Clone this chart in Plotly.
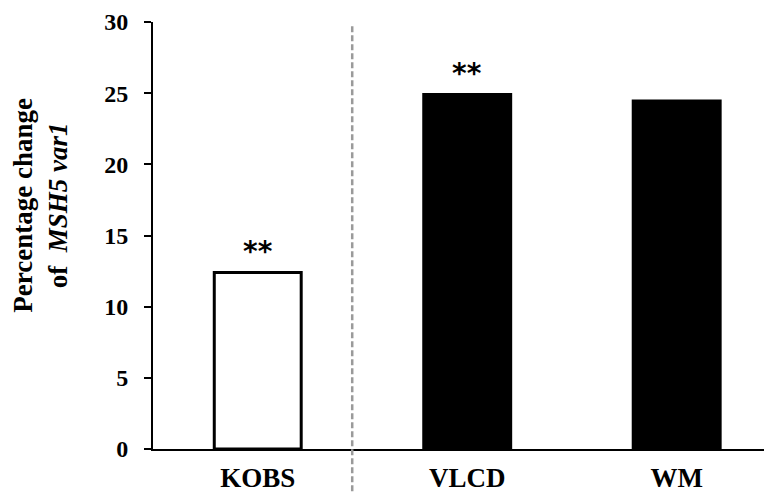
import plotly.graph_objects as go

categories = ["KOBS", "VLCD", "WM"]
values = [12.4, 24.9, 24.45]
fill_colors = ["white", "black", "black"]
significance = ["**", "**", ""]
y_ticks = [0, 5, 10, 15, 20, 25, 30]

FONT = "Liberation Serif, Times New Roman, serif"

fig = go.Figure()
fig.add_trace(go.Bar(
    x=categories, y=values, width=0.415,
    marker=dict(color=fill_colors, line=dict(color="black", width=3)),
    showlegend=False,
))

for cat, val, sig in zip(categories, values, significance):
    if sig:
        fig.add_annotation(x=cat, y=val, xref="x", yref="y", text=sig,
                           showarrow=False, yanchor="bottom", yshift=3,
                           font=dict(family="DejaVu Sans", size=28, color="black", weight="bold"))

# dashed separator between KOBS and the other groups
fig.add_shape(type="line", xref="x", yref="paper", x0=0.451, x1=0.451,
              y0=-0.12, y1=0.993, line=dict(color="#9a9a9a", width=2.5, dash="6px,3px"))

fig.add_annotation(xref="paper", yref="paper", x=-0.181, y=0.572,
                   text="Percentage change<br>of&nbsp;&nbsp;<i>MSH5 var1</i>",
                   textangle=-90, showarrow=False, xanchor="center", yanchor="middle",
                   font=dict(family=FONT, size=27, color="black", weight="bold"))

# page body adds an 8px offset, so the figure is sized to fit the window
fig.update_layout(
    width=764, height=486,
    margin=dict(l=145, r=0, t=14, b=45),
    paper_bgcolor="white", plot_bgcolor="white",
    bargap=0.5,
)
fig.update_xaxes(
    range=[-0.5, 2.455], showline=True, linecolor="black", linewidth=2,
    ticks="", showgrid=False, zeroline=False,
    tickfont=dict(family=FONT, size=27, color="black", weight="bold"),
    ticklabelstandoff=4,
)
fig.update_yaxes(
    range=[0, 30], tickvals=y_ticks, showline=True, linecolor="black", linewidth=2,
    ticks="outside", ticklen=7, tickwidth=2, tickcolor="black",
    showgrid=False, zeroline=False,
    tickfont=dict(family=FONT, size=24, color="black", weight="bold"),
    ticklabelstandoff=11,
)

fig.write_html("out.html")
